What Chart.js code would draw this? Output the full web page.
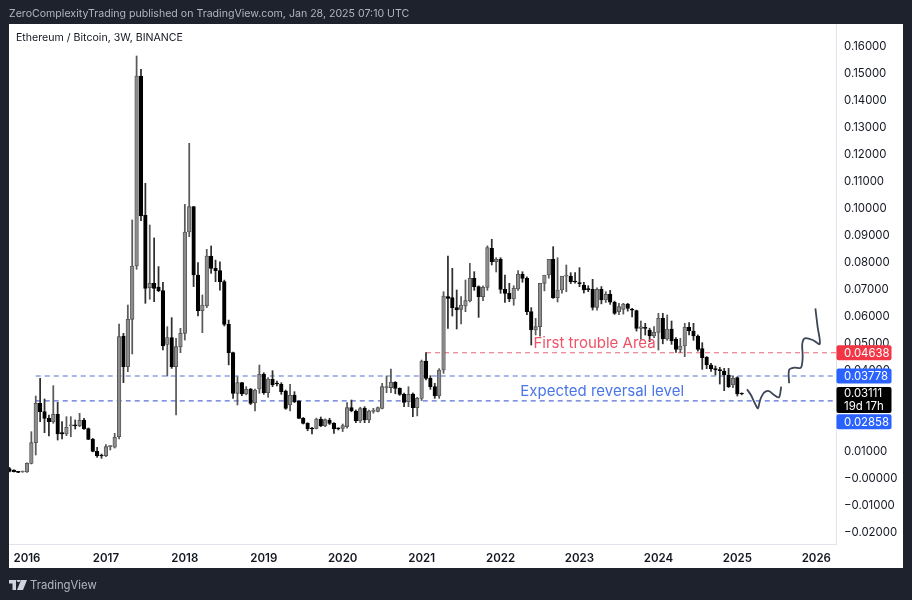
<!DOCTYPE html>
<html>
<head>
<meta charset="utf-8">
<title>Ethereum / Bitcoin, 3W, BINANCE</title>
<script src="https://cdn.jsdelivr.net/npm/chart.js@4"></script>
<style>
  html, body { margin: 0; padding: 0; width: 912px; height: 600px; overflow: hidden; background: #1e222d; }
  body { font-family: Inter, "Liberation Sans", sans-serif; }
  #panel { position: absolute; left: 9px; top: 24px; width: 894px; height: 544px; background: #fff; }
  #chart { position: absolute; left: 0; top: 0; }
  #published { position: absolute; left: 9px; top: 7px; font-size: 10.6px; line-height: 14px; color: #b2b5be; white-space: nowrap; }
  #title { position: absolute; left: 16px; top: 31px; font-size: 10.6px; line-height: 14px; color: #131722; white-space: nowrap; }
  #brand { position: absolute; left: 30px; top: 578px; font-size: 11.3px; line-height: 15px; color: #b2b5be; white-space: nowrap; }
  #logo { position: absolute; left: 9px; top: 580px; }
</style>
</head>
<body>
<div id="panel"></div>
<canvas id="chart" width="912" height="600"></canvas>
<div id="published">ZeroComplexityTrading published on TradingView.com, Jan 28, 2025 07:10 UTC</div>
<div id="title">Ethereum / Bitcoin, 3W, BINANCE</div>
<svg id="logo" width="18" height="10" viewBox="0 0 36 20"><path fill="#d1d4dc" d="M0 0h14v20H7V7H0zM15 0a4 4 0 1 1 0 .01zM24 0h12l-8 20H16z"/></svg>
<div id="brand">TradingView</div>
<script>
// 3W candles, oldest first
const opens = [
  .00346, .00296, .00235, .00222, .00222, .00543, .01309, .02765, .02457, .0221,
  .02086, .02358, .01679, .0163, .0193, .0195, .0194, .0215, .01827, .01432,
  .00988, .0085, .00827, .0116, .0114, .0153, .0526, .04123, .05877, .07852,
  .14889, .09728, .0705, .0721, .0707, .0694, .0495, .052, .0412, .04864,
  .05358, .0911, .10049, .07519, .06198, .06383, .08222, .07765, .0768, .07272,
  .05691, .04642, .03136, .03531, .03111, .03296, .0279, .03296, .03852, .0316,
  .03654, .03506, .03469, .03222, .02704, .03074, .02852, .02222, .02025, .0184,
  .0184, .02185, .01926, .0215, .02025, .0184, .0184, .01901, .02605, .02481,
  .02111, .0258, .02148, .0247, .0247, .0258, .0335, .0335, .03543, .03321,
  .03099, .02827, .03111, .02605, .0295, .04333, .03691, .03383, .03037, .04,
  .0672, .0668, .06309, .06247, .0637, .06556, .07395, .07086, .06716, .07062,
  .08506, .08012, .08099, .06988, .0684, .0663, .07, .07543, .07395, .0616,
  .05481, .05605, .0721, .07519, .08099, .06679, .06963, .0748, .07481, .0728,
  .07235, .07148, .07, .06988, .06321, .06988, .06593, .0681, .0651, .0616,
  .06247, .06444, .0625, .06198, .05543, .0556, .05481, .05259, .05395, .05914,
  .05148, .05519, .05148, .04765, .04889, .0558, .05444, .05259, .0479, .04469,
  .04185, .0405, .0402, .03963, .03815, .03444, .03716, .0313
];
const highs = [
  .00395, .00309, .00247, .00259, .0056, .01716, .03037, .03691, .02926, .02333,
  .0342, .02802, .02086, .02272, .02272, .0215, .02395, .0221, .01852, .0147,
  .01136, .0089, .01235, .012, .01654, .05704, .05358, .06407, .09556, .1563,
  .1514, .10914, .0937, .0889, .0783, .0725, .05605, .0594, .0517, .05543,
  .10136, .12395, .1006, .07975, .0678, .08469, .08593, .0807, .0801, .0733,
  .0585, .0466, .03753, .0354, .03383, .0332, .03296, .04185, .039, .03716,
  .03975, .03593, .03531, .03259, .03469, .03198, .02865, .0224, .0205, .01877,
  .0222, .0226, .0219, .0221, .0205, .0186, .02, .0279, .02889, .0252,
  .0262, .0264, .0252, .0258, .0263, .03506, .03778, .04037, .0357, .0334,
  .0315, .03383, .0315, .0299, .0437, .04642, .0379, .03506, .0405, .06901,
  .08222, .07765, .06963, .0672, .07333, .0795, .07642, .0712, .0712, .086,
  .0884, .0816, .0816, .07519, .0721, .0712, .07679, .0764, .0745, .0631,
  .05914, .0632, .07395, .07765, .08568, .0816, .07, .07889, .07605, .07605,
  .0779, .0725, .0712, .07358, .0704, .0709, .069, .0695, .0655, .0647,
  .0647, .0647, .0628, .0622, .05815, .0573, .0555, .05605, .06099, .06099,
  .06037, .05815, .052, .05173, .0573, .05753, .0573, .053, .05012, .045,
  .0425, .04148, .041, .0406, .0406, .03778, .0375, .0315
];
const lows = [
  .00222, .00222, .00198, .0021, .0021, .0052, .00852, .02086, .01679, .01556,
  .02025, .01407, .01444, .01568, .0153, .01815, .019, .018, .0142, .0097,
  .00765, .0073, .0079, .0104, .0111, .01444, .03531, .03938, .04593, .0773,
  .0953, .0647, .0662, .0653, .069, .0474, .03778, .0406, .02333, .04642,
  .0511, .0894, .0709, .06, .05383, .0631, .0758, .0727, .0696, .0563,
  .0419, .0295, .02704, .0305, .0308, .0272, .02481, .03136, .031, .02988,
  .03383, .03407, .03099, .02543, .02481, .0279, .022, .02, .0175, .0163,
  .0182, .019, .019, .0198, .0165, .0178, .0172, .0185, .0245, .0205,
  .0205, .0205, .0205, .024, .0245, .0256, .0316, .0316, .0312, .0306,
  .02642, .02642, .02272, .023, .0287, .0363, .03284, .0295, .0295, .0388,
  .05543, .06, .05519, .05704, .0616, .0652, .0695, .0595, .0657, .0695,
  .0789, .0763, .0684, .06506, .0653, .064, .0695, .0725, .0605, .04926,
  .05296, .0525, .0693, .074, .0665, .0652, .0685, .069, .072, .0722,
  .07086, .0685, .069, .0622, .0622, .0645, .065, .0643, .0606, .0605,
  .0607, .0618, .0597, .05444, .05136, .05296, .05049, .052, .0474, .0497,
  .051, .0495, .0465, .0465, .04494, .053, .051, .047, .04025, .0405,
  .0395, .03815, .03481, .03235, .0335, .0335, .03037, .0308
];
const closes = [
  .00247, .00235, .0021, .00247, .00543, .01309, .02765, .02457, .0221, .02086,
  .02358, .0163, .0163, .01877, .0195, .0193, .02136, .01827, .01432, .00988,
  .00815, .00815, .0116, .0117, .01506, .05235, .04123, .05877, .07852, .14889,
  .09704, .07025, .0721, .07025, .0694, .04889, .052, .04123, .04864, .05358,
  .0911, .10049, .07519, .06198, .06407, .08222, .07765, .0768, .07272, .05691,
  .04642, .03136, .03531, .03111, .03284, .02765, .03259, .0384, .0316, .03667,
  .03457, .03481, .03198, .0258, .03062, .02827, .0221, .02025, .01827, .01815,
  .02185, .01926, .0216, .02025, .01815, .0182, .01938, .02605, .02494, .02111,
  .02568, .02148, .02481, .0249, .02605, .03383, .03383, .03543, .03321, .03099,
  .02802, .03099, .02605, .0295, .04333, .03691, .03383, .03037, .04, .06741,
  .0665, .06309, .06222, .06407, .06568, .07395, .07086, .06716, .07062, .08531,
  .08012, .08099, .06988, .0684, .0663, .07025, .07543, .07395, .0616, .05481,
  .05605, .0721, .07519, .08099, .06679, .06963, .07481, .0751, .07272, .0726,
  .07198, .06963, .0698, .06321, .06988, .06593, .06802, .0651, .06099, .06346,
  .06444, .06284, .0622, .05543, .0560, .05543, .05259, .05395, .05914, .05148,
  .05519, .05074, .04765, .04889, .0558, .05444, .05259, .04765, .04457, .04185,
  .0405, .04, .03975, .03815, .03383, .03691, .03111, .03111
];

const yearIndex = [4, 22, 40, 58, 76, 94, 112, 130, 148, 166, 184];
const yearLabels = ['2016', '2017', '2018', '2019', '2020', '2021', '2022', '2023', '2024', '2025', '2026'];
const priceTicks = [0.16, 0.15, 0.14, 0.13, 0.12, 0.11, 0.10, 0.09, 0.08, 0.07, 0.06, 0.05, 0.04, 0.03, 0.02, 0.01, 0, -0.01, -0.02];

const redLevel = 0.04638;
const blueLevelHigh = 0.03778;
const blueLevelLow = 0.02858;
const lastPrice = 0.03111;

// hand drawn projection: index and price pairs
const sketchDownX = [168.2, 169.1, 170, 170.7, 171.2, 172.1, 173.2, 174.4, 175.5, 176];
const sketchDownY = [.03284, .03074, .02765, .0258, .02889, .0316, .03222, .03074, .02988, .03383];
const sketchUpX = [177.8, 177.8, 179, 180.5, 180.9, 180.8, 181.4, 183.2, 184.8, 184.3, 183.8];
const sketchUpY = [.03506, .04, .04086, .04086, .04494, .04963, .05173, .05111, .04963, .05605, .06284];

const UP_FILL = '#8c8c8c', UP_EDGE = '#4d4d4d', DOWN_FILL = '#000000', WICK_UP = '#5a5a5a', WICK_DOWN = '#303030';
const FONT = 'Inter, "Liberation Sans", sans-serif';
const isUp = i => closes[i] >= opens[i];

const wicks = highs.map((h, i) => ({ x: i, y: [lows[i], h] }));
const bodies = opens.map((o, i) => ({ x: i, y: [Math.min(o, closes[i]), Math.max(o, closes[i])] }));
const pairs = (xs, ys) => xs.map((x, i) => ({ x, y: ys[i] }));
const level = (from, price) => [{ x: from, y: price }, { x: 188.5, y: price }];

const dashed = (data, color) => ({
  type: 'line', data, borderColor: color, borderWidth: 1.1, borderDash: [5, 4],
  pointRadius: 0, order: 3,
});
const sketch = data => ({
  type: 'line', data, borderColor: '#3d4656', borderWidth: 1.8, tension: 0.3,
  pointRadius: 0, order: 0,
});

// price tags on the axis and the two notes on the chart
const overlays = {
  id: 'overlays',
  afterDraw(chart) {
    const { ctx, scales: { x, y } } = chart;
    const drawTag = (top, h, color, lines) => {
      ctx.fillStyle = color;
      ctx.beginPath();
      ctx.roundRect(836.5, top, 55, h, 2);
      ctx.fill();
      ctx.fillStyle = '#ffffff';
      ctx.font = '11.4px ' + FONT;
      ctx.textAlign = 'left';
      ctx.textBaseline = 'middle';
      lines.forEach((t, n) => ctx.fillText(t, 844, top + h / (lines.length * 2) * (2 * n + 1) + 0.5));
    };
    drawTag(y.getPixelForValue(redLevel) - 7.5, 15, '#f23645', ['0.04638']);
    drawTag(y.getPixelForValue(blueLevelHigh) - 7.5, 15, '#2962ff', ['0.03778']);
    drawTag(y.getPixelForValue(lastPrice) - 7, 26, '#000000', ['0.03111', '19d 17h']);
    drawTag(y.getPixelForValue(blueLevelLow) + 13.5, 15, '#2962ff', ['0.02858']);

    ctx.font = '15px ' + FONT;
    ctx.textAlign = 'left';
    ctx.textBaseline = 'middle';
    ctx.fillStyle = '#ef5267';
    ctx.fillText('First trouble Area', x.getPixelForValue(119.5), y.getPixelForValue(0.0500));
    ctx.fillStyle = '#4a76e8';
    ctx.fillText('Expected reversal level', x.getPixelForValue(116.5), y.getPixelForValue(0.0322));
  },
};

new Chart(document.getElementById('chart'), {
  type: 'bar',
  data: {
    datasets: [
      {
        data: bodies, grouped: false, barThickness: 3.6, minBarLength: 1, order: 1, borderSkipped: false,
        backgroundColor: c => (isUp(c.dataIndex) ? UP_FILL : DOWN_FILL),
        borderColor: c => (isUp(c.dataIndex) ? UP_EDGE : DOWN_FILL),
        borderWidth: 0.8,
      },
      {
        data: wicks, grouped: false, barThickness: 1.1, order: 2, borderWidth: 0,
        backgroundColor: c => (isUp(c.dataIndex) ? WICK_UP : WICK_DOWN),
      },
      dashed(level(95, redLevel), '#e8677a'),
      dashed(level(6, blueLevelHigh), '#5570d8'),
      dashed(level(6, blueLevelLow), '#5570d8'),
      sketch(pairs(sketchDownX, sketchDownY)),
      sketch(pairs(sketchUpX, sketchUpY)),
    ],
  },
  plugins: [overlays],
  options: {
    responsive: false,
    animation: false,
    layout: { padding: { left: 9, top: 24, right: 9, bottom: 32 } },
    plugins: { legend: { display: false }, tooltip: { enabled: false } },
    scales: {
      x: {
        type: 'linear', min: -0.1, max: 188.5, offset: false,
        grid: { display: false, drawTicks: false },
        border: { color: '#e0e3eb' },
        afterFit: s => { s.height = 24; },
        afterBuildTicks: s => { s.ticks = yearIndex.map(value => ({ value })); },
        ticks: {
          autoSkip: false, maxRotation: 0, padding: 8, color: '#131722',
          font: { family: 'Inter', size: 11.5, weight: '600' },
          callback: v => yearLabels[yearIndex.indexOf(v)],
        },
      },
      y: {
        position: 'right', min: -0.02444, max: 0.16815,
        grid: { display: false, drawTicks: false },
        border: { color: '#e0e3eb' },
        afterFit: s => { s.width = 67; },
        afterBuildTicks: s => { s.ticks = priceTicks.map(value => ({ value })); },
        ticks: {
          autoSkip: false, padding: 8, labelOffset: 1, color: '#131722',
          font: { family: 'Inter', size: 11.4 },
          callback: v => (v <= 0 ? '\u2212' : '') + Math.abs(v).toFixed(5),
        },
      },
    },
  },
});
</script>
</body>
</html>
